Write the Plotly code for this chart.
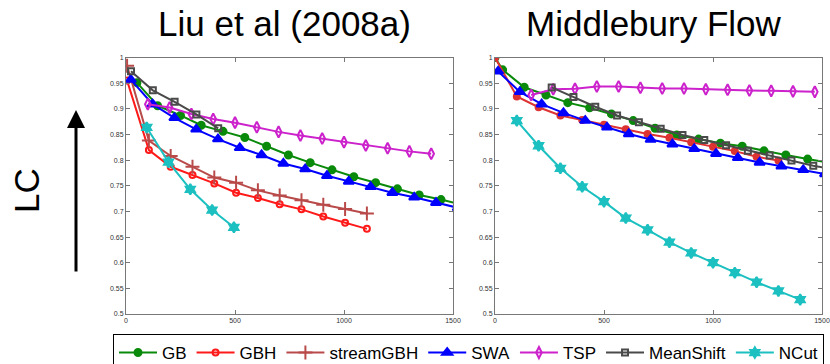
import plotly.graph_objects as go

# ---- data: left panel, Liu et al (2008a)
liu_gb_x = [50, 145, 250, 345, 445, 545, 645, 745, 845, 945, 1045, 1145, 1245, 1345, 1445, 1545]
liu_gb_y = [0.951, 0.906, 0.887, 0.868, 0.856, 0.844, 0.827, 0.810, 0.795, 0.781, 0.7675, 0.756, 0.744, 0.732, 0.723, 0.713]
liu_gbh_x = [5, 105, 205, 305, 405, 505, 605, 705, 805, 905, 1005, 1105]
liu_gbh_y = [0.955, 0.8195, 0.787, 0.771, 0.7545, 0.7365, 0.726, 0.714, 0.704, 0.690, 0.678, 0.666]
liu_sgbh_x = [5, 105, 205, 305, 405, 505, 605, 705, 805, 905, 1005, 1105]
liu_sgbh_y = [0.984, 0.838, 0.808, 0.787, 0.766, 0.756, 0.741, 0.731, 0.7215, 0.713, 0.7045, 0.696]
liu_swa_x = [22, 122, 222, 322, 422, 522, 622, 722, 822, 922, 1022, 1122, 1222, 1322, 1422, 1522]
liu_swa_y = [0.957, 0.909, 0.8825, 0.860, 0.841, 0.824, 0.810, 0.7935, 0.7825, 0.7695, 0.7585, 0.748, 0.7365, 0.7275, 0.717, 0.707]
liu_tsp_x = [100, 200, 300, 400, 500, 600, 700, 800, 900, 1000, 1100, 1200, 1300, 1400]
liu_tsp_y = [0.909, 0.9026, 0.890, 0.880, 0.873, 0.864, 0.855, 0.848, 0.842, 0.835, 0.8286, 0.823, 0.817, 0.8123]
liu_ms_x = [23, 123, 223, 323, 423]
liu_ms_y = [0.973, 0.936, 0.9136, 0.889, 0.862]
liu_ncut_x = [95, 195, 295, 395, 495]
liu_ncut_y = [0.8636, 0.796, 0.743, 0.7026, 0.669]

# ---- data: right panel, Middlebury Flow
mid_gb_x = [0, 35, 134, 234, 334, 434, 534, 634, 734, 834, 934, 1034, 1134, 1234, 1334, 1434, 1534]
mid_gb_y = [1.0, 0.976, 0.942, 0.927, 0.912, 0.902, 0.890, 0.877, 0.862, 0.849, 0.841, 0.833, 0.827, 0.818, 0.810, 0.802, 0.795]
mid_gbh_x = [0, 100, 200, 300, 400, 500, 600, 700, 800, 900, 1000, 1100, 1200, 1300]
mid_gbh_y = [1.0, 0.924, 0.903, 0.887, 0.878, 0.869, 0.860, 0.851, 0.8435, 0.835, 0.826, 0.8175, 0.8065, 0.799]
mid_swa_x = [14, 114, 214, 314, 414, 514, 614, 714, 814, 914, 1014, 1114, 1214, 1314, 1414, 1514]
mid_swa_y = [0.973, 0.933, 0.909, 0.892, 0.877, 0.864, 0.851, 0.840, 0.831, 0.822, 0.8125, 0.8045, 0.7955, 0.788, 0.781, 0.773]
mid_tsp_x = [166, 267, 367, 467, 567, 667, 767, 867, 967, 1067, 1167, 1267, 1367, 1467]
mid_tsp_y = [0.927, 0.938, 0.939, 0.9435, 0.9435, 0.941, 0.9396, 0.9396, 0.938, 0.937, 0.9357, 0.935, 0.934, 0.933]
mid_ms_x = [260, 360, 460, 560, 660, 760, 860, 960, 1060, 1160, 1260, 1360, 1460, 1560]
mid_ms_y = [0.9416, 0.923, 0.904, 0.887, 0.874, 0.861, 0.849, 0.839, 0.829, 0.818, 0.809, 0.7994, 0.789, 0.782]
mid_ncut_x = [100, 200, 300, 400, 500, 600, 700, 800, 900, 1000, 1100, 1200, 1300, 1400]
mid_ncut_y = [0.877, 0.828, 0.784, 0.748, 0.719, 0.687, 0.664, 0.640, 0.619, 0.600, 0.5805, 0.562, 0.545, 0.528]

x_ticks = [0, 500, 1000, 1500]
y_ticks = [0.5, 0.55, 0.6, 0.65, 0.7, 0.75, 0.8, 0.85, 0.9, 0.95, 1.0]
y_tick_text = ["0.5", "0.55", "0.6", "0.65", "0.7", "0.75", "0.8", "0.85", "0.9", "0.95", "1"]

names = ["GB", "GBH", "streamGBH", "SWA", "TSP", "MeanShift", "NCut"]
colors = ["#0a8a0a", "#ff1a1a", "#b94a4a", "#0000ff", "#cc22cc", "#4a4a4a", "#1cc0c0"]
symbols = ["circle", "circle-open", "cross-thin-open", "triangle-up", "diamond-tall-open", "square-open", "hexagram"]
sizes = [7, 6, 10, 9, 8, 6, 8]

left = [(liu_gb_x, liu_gb_y), (liu_gbh_x, liu_gbh_y), (liu_sgbh_x, liu_sgbh_y), (liu_swa_x, liu_swa_y),
        (liu_tsp_x, liu_tsp_y), (liu_ms_x, liu_ms_y), (liu_ncut_x, liu_ncut_y)]
right = [(mid_gb_x, mid_gb_y), (mid_gbh_x, mid_gbh_y), None, (mid_swa_x, mid_swa_y),
         (mid_tsp_x, mid_tsp_y), (mid_ms_x, mid_ms_y), (mid_ncut_x, mid_ncut_y)]
right_symbols = ["circle", "circle", None, "triangle-up", "diamond-tall-open", "square-open", "hexagram"]
right_colors = ["#0a8a0a", "#dd3333", None, "#0000ff", "#cc22cc", "#4a4a4a", "#1cc0c0"]

fig = go.Figure()
for i, name in enumerate(names):
    xs, ys = left[i]
    fig.add_trace(go.Scatter(
        x=xs, y=ys, name=name, mode="lines+markers",
        line=dict(color=colors[i], width=2),
        marker=dict(symbol=symbols[i], size=sizes[i], color=colors[i],
                    line=dict(color=colors[i], width=2)),
        xaxis="x", yaxis="y", cliponaxis=True))
for i, name in enumerate(names):
    if right[i] is None:
        continue
    xs, ys = right[i]
    fig.add_trace(go.Scatter(
        x=xs, y=ys, name=name, mode="lines+markers", showlegend=False,
        line=dict(color=right_colors[i], width=2),
        marker=dict(symbol=right_symbols[i], size=sizes[i], color=right_colors[i],
                    line=dict(color=right_colors[i], width=2)),
        xaxis="x2", yaxis="y2", cliponaxis=True))

axis_common = dict(showgrid=False, zeroline=False, showline=True, linecolor="#777777", linewidth=1,
                   mirror="ticks", ticks="inside", ticklen=4, tickcolor="#777777",
                   tickfont=dict(size=7, color="#333333", family="Liberation Sans"))
y_dom = [1 - 314 / 364, 1 - 57.5 / 364]

fig.update_layout(
    width=830, height=364,
    margin=dict(l=0, r=0, t=0, b=0, autoexpand=False),
    paper_bgcolor="white", plot_bgcolor="white",
    font=dict(family="Liberation Sans", color="black"),
    xaxis=dict(domain=[126 / 830, 453 / 830], range=[0, 1500], tickvals=x_ticks, anchor="y", **axis_common),
    yaxis=dict(domain=y_dom, range=[0.5, 1.0], tickvals=y_ticks, ticktext=y_tick_text, anchor="x", **axis_common),
    xaxis2=dict(domain=[495 / 830, 822 / 830], range=[0, 1500], tickvals=x_ticks, anchor="y2", **axis_common),
    yaxis2=dict(domain=y_dom, range=[0.5, 1.0], tickvals=y_ticks, ticktext=y_tick_text, anchor="x2", **axis_common),
    legend=dict(orientation="h", x=113 / 830, y=1 - 334 / 364, xanchor="left", yanchor="top",
                bordercolor="black", borderwidth=1, bgcolor="white",
                font=dict(size=17, family="Liberation Sans"), itemwidth=38,
                tracegroupgap=0),
    annotations=[
        dict(text="Liu et al (2008a)", x=284 / 830, y=1 - 24 / 364, xref="paper", yref="paper",
             xanchor="center", yanchor="middle", showarrow=False, font=dict(size=35)),
        dict(text="Middlebury Flow", x=654 / 830, y=1 - 24 / 364, xref="paper", yref="paper",
             xanchor="center", yanchor="middle", showarrow=False, font=dict(size=35)),
        dict(text="LC", x=26 / 830, y=1 - 191 / 364, xref="paper", yref="paper",
             xanchor="center", yanchor="middle", showarrow=False, textangle=-90, font=dict(size=35)),
        dict(text="", x=76 / 830, y=1 - 110 / 364, xref="paper", yref="paper",
             showarrow=True, axref="pixel", ayref="pixel", ax=0, ay=163,
             arrowhead=2, arrowsize=1.2, arrowwidth=3, arrowcolor="black"),
    ],
)

# page body has a default 8px margin; drop it so the figure sits at the window corner
fig.write_html("out.html", config={"displayModeBar": False},
               post_script="document.body.style.margin='0';")
